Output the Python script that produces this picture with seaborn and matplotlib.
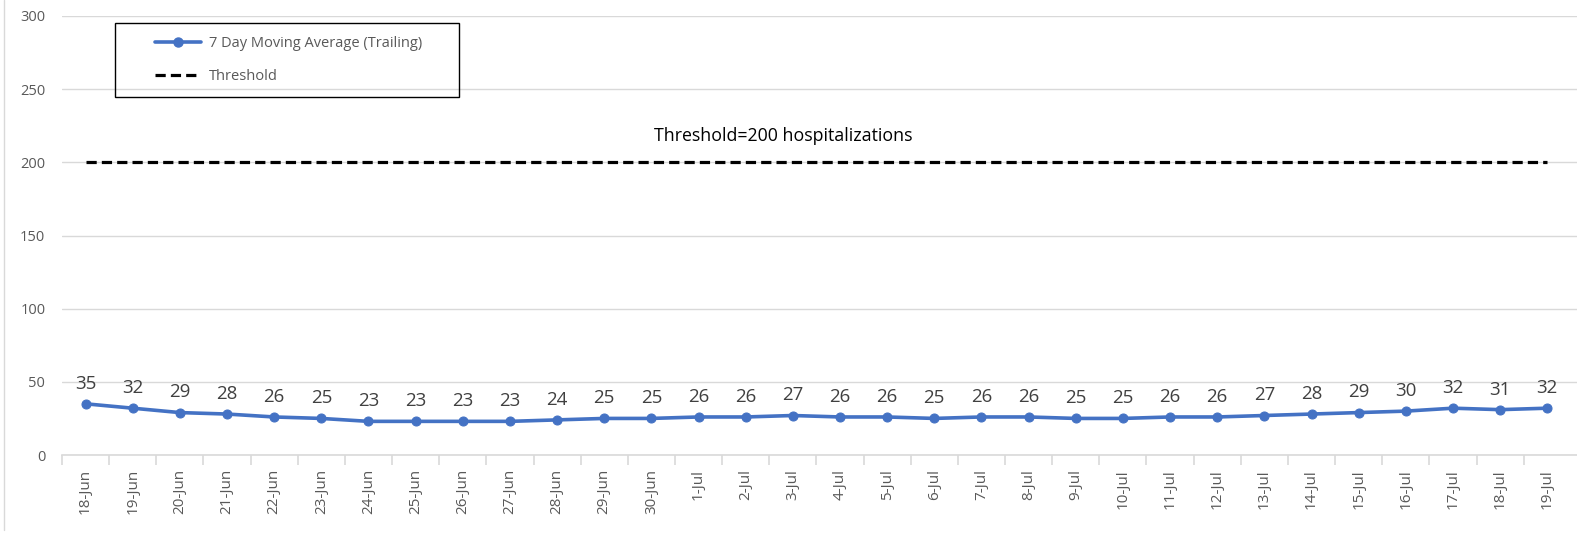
"""Recreate the 7 day moving average hospitalization chart."""

import matplotlib

matplotlib.use("Agg")
import matplotlib.pyplot as plt
import numpy as np
import pandas as pd
import seaborn as sns
from matplotlib.lines import Line2D
from matplotlib.patches import Rectangle
from matplotlib.ticker import FixedLocator

DATES = [
    "18-Jun", "19-Jun", "20-Jun", "21-Jun", "22-Jun", "23-Jun", "24-Jun", "25-Jun",
    "26-Jun", "27-Jun", "28-Jun", "29-Jun", "30-Jun", "1-Jul", "2-Jul", "3-Jul",
    "4-Jul", "5-Jul", "6-Jul", "7-Jul", "8-Jul", "9-Jul", "10-Jul", "11-Jul",
    "12-Jul", "13-Jul", "14-Jul", "15-Jul", "16-Jul", "17-Jul", "18-Jul", "19-Jul",
]
MOVING_AVG = [
    35, 32, 29, 28, 26, 25, 23, 23, 23, 23, 24, 25, 25, 26, 26, 27,
    26, 26, 25, 26, 26, 25, 25, 26, 26, 27, 28, 29, 30, 32, 31, 32,
]
THRESHOLD = [200] * len(DATES)
Y_TICKS = [0, 50, 100, 150, 200, 250, 300]

BLUE = "#4472C4"
GRID = "#D9D9D9"
TEXT = "#595959"


def main() -> None:
    sns.set_theme(style="white")
    plt.rcParams["font.family"] = ["Open Sans", "DejaVu Sans"]

    data = pd.DataFrame({"date": DATES, "avg": MOVING_AVG, "threshold": THRESHOLD})

    fig = plt.figure(figsize=(15.77, 5.35), dpi=100)
    ax = fig.add_axes([0.0393, 0.1495, 0.9607, 0.8206])

    sns.lineplot(data=data, x="date", y="threshold", ax=ax, color="black",
                 linewidth=2.3, sort=False)
    ax.lines[-1].set_dashes((3.2, 1.6))
    sns.lineplot(data=data, x="date", y="avg", ax=ax, color=BLUE, linewidth=2.6,
                 marker="o", markersize=6.5, markeredgecolor=BLUE, sort=False)

    for i, value in enumerate(data["avg"]):
        ax.annotate(f"{value}", (i, value), xytext=(0, 8), textcoords="offset points",
                    ha="center", va="bottom", fontsize=13.5, color="#404040")

    ax.text(0.476, 218, "Threshold=200 hospitalizations", transform=ax.get_yaxis_transform(),
            ha="center", va="center", fontsize=12.8, color="black")

    ax.set_xlim(-0.5, len(DATES) - 0.5 + 0.13)
    ax.set_ylim(0, 300)
    ax.set_yticks(Y_TICKS)
    ax.yaxis.grid(True, color=GRID, linewidth=1)
    ax.set_axisbelow(True)
    for side in ("top", "right", "left"):
        ax.spines[side].set_visible(False)
    ax.spines["bottom"].set_color(GRID)
    ax.spines["bottom"].set_linewidth(1.2)

    ax.set_xticks(range(len(DATES)))
    ax.set_xticklabels(DATES, rotation=90, fontsize=11, color=TEXT)
    ax.xaxis.set_minor_locator(FixedLocator(np.arange(-0.5, len(DATES) - 0.6, 1.0)))
    ax.tick_params(axis="x", which="major", length=0, pad=10)
    ax.tick_params(axis="x", which="minor", length=7, color=GRID, width=1.2, bottom=True)
    ax.tick_params(axis="y", length=0, labelsize=10.5, labelcolor=TEXT, pad=12)
    ax.set_xlabel("")
    ax.set_ylabel("")

    # legend: square black box with a frameless legend placed inside it
    ax.add_patch(Rectangle((0.0351, 0.8155), 0.2267, 0.1685, transform=ax.transAxes,
                           fill=False, edgecolor="black", linewidth=1.0, zorder=5,
                           clip_on=False))
    handles = [
        Line2D([], [], color=BLUE, linewidth=2.6, marker="o", markersize=6.5),
        Line2D([], [], color="black", linewidth=2.3, dashes=(3.2, 1.6)),
    ]
    ax.legend(handles, ["7 Day Moving Average (Trailing)", "Threshold"],
              loc="upper left", bbox_to_anchor=(0.0616, 0.955), frameon=False,
              fontsize=10.5, labelcolor=TEXT, handlelength=3.1, handletextpad=0.6,
              borderpad=0, labelspacing=1.25, borderaxespad=0)

    fig.add_artist(Line2D([0.0028, 0.0028], [0.01, 1.0], transform=fig.transFigure,
                          color=GRID, linewidth=1))
    fig.savefig("out.png", dpi=100)


if __name__ == "__main__":
    main()
